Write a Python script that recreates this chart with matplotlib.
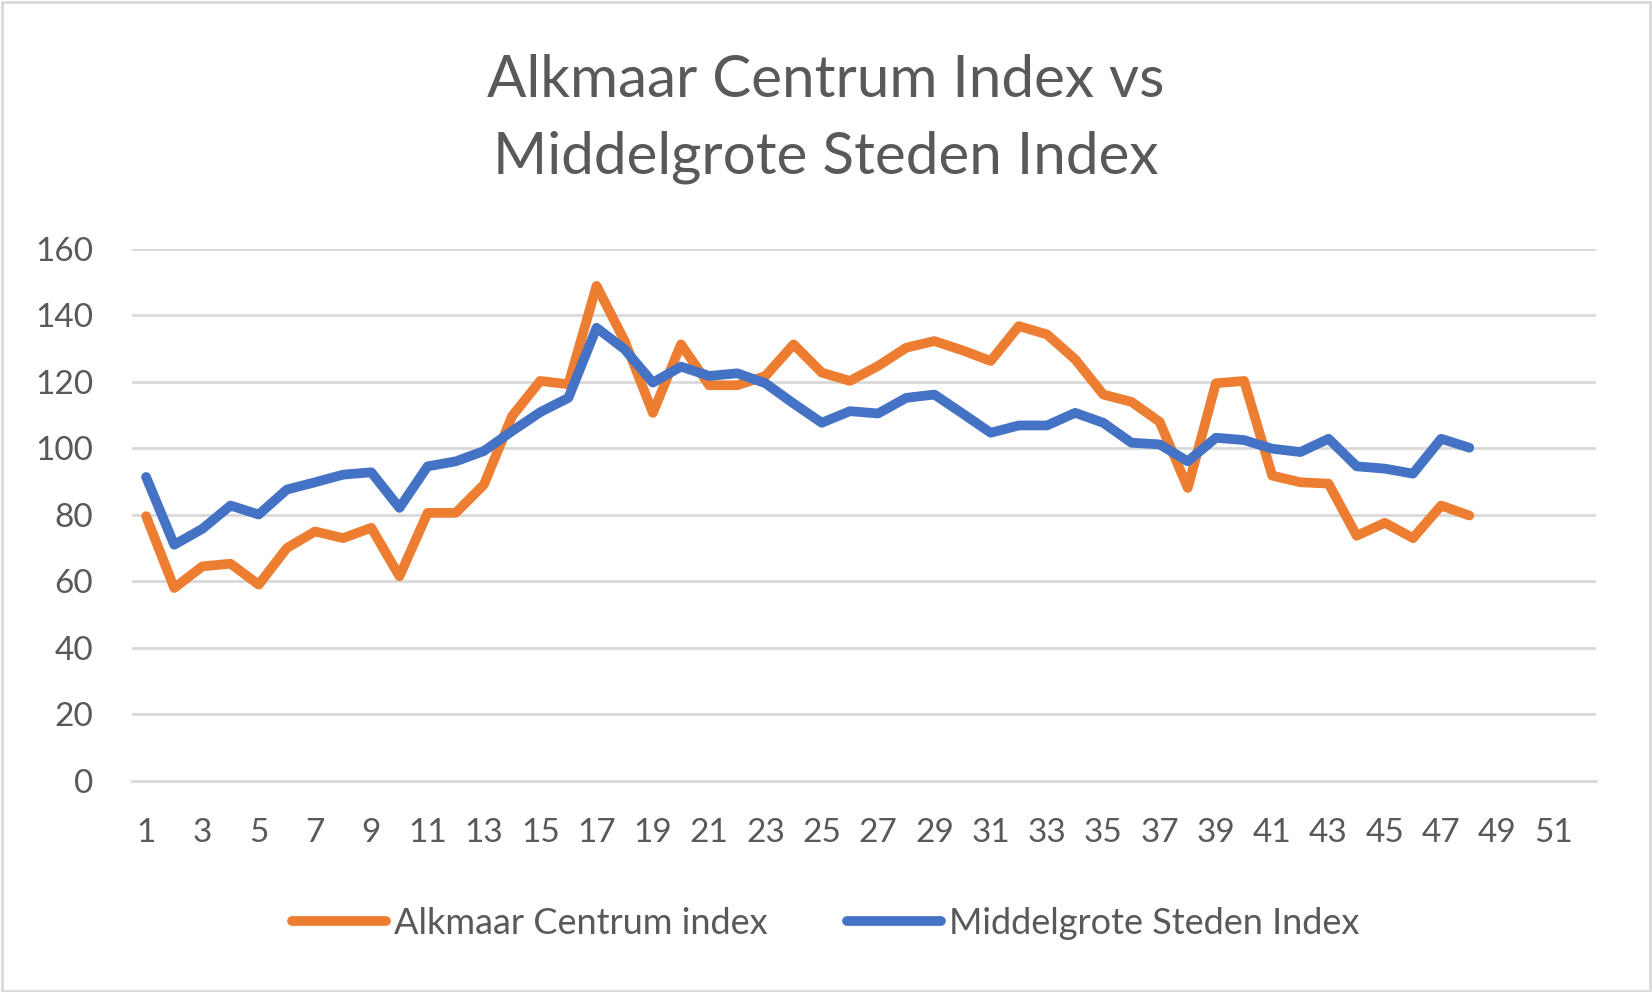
import matplotlib.pyplot as plt
from matplotlib.patches import Rectangle
import numpy as np

# weeks 1..52 on the axis, data through week 48
weeks = list(range(1, 53))
alkmaar = [79.6, 58.0, 64.5, 65.3, 59.0, 70.0, 75.0, 73.0, 76.1, 61.5,
           80.6, 80.6, 89.1, 109.7, 120.3, 119.3, 148.9, 132.3, 110.7, 131.3,
           119.0, 119.0, 121.8, 131.3, 122.8, 120.3, 124.8, 130.3, 132.3, 129.5,
           126.3, 136.8, 134.3, 126.8, 116.2, 114.0, 108.0, 88.1, 119.6, 120.3,
           91.8, 89.8, 89.4, 73.7, 77.6, 73.0, 82.8, 79.8]
middelgroot = [91.4, 71.0, 75.8, 82.8, 80.1, 87.6, 89.8, 92.1, 92.8, 82.1,
               94.6, 96.1, 99.2, 105.2, 110.9, 115.2, 136.3, 129.8, 119.8, 124.6,
               121.8, 122.6, 119.6, 113.5, 107.7, 111.2, 110.5, 115.2, 116.2, 110.5,
               104.7, 106.9, 106.9, 110.7, 107.7, 101.7, 101.2, 96.1, 103.2, 102.5,
               99.9, 98.9, 102.9, 94.6, 93.9, 92.4, 102.9, 100.2]
labels = ['Alkmaar Centrum index', 'Middelgrote Steden Index']

txt = '#595959'
grid = '#d9d9d9'
plt.rcParams['font.family'] = ['Lato', 'DejaVu Sans']

fig = plt.figure(figsize=(16.52, 9.92), dpi=100)
ax = fig.add_axes([0.0799, 0.213, 0.8862, 0.536])

x = np.arange(1, len(alkmaar) + 1)
ax.plot(x, alkmaar, color='#ED7D31', lw=7, solid_capstyle='round',
        solid_joinstyle='round', label=labels[0], zorder=3)
ax.plot(x, middelgroot, color='#4472C4', lw=7, solid_capstyle='round',
        solid_joinstyle='round', label=labels[1], zorder=3)

ax.set_xlim(0.5, len(weeks) + 0.5)
ax.set_ylim(0, 160)
ax.set_yticks(range(0, 161, 20))
ax.set_xticks(weeks[::2])
ax.tick_params(axis='both', length=0, labelsize=24, colors=txt)
ax.tick_params(axis='y', pad=28)
ax.tick_params(axis='x', pad=27)
ax.grid(axis='y', color=grid, lw=2, zorder=0)
for s in ['top', 'right', 'left']:
    ax.spines[s].set_visible(False)
ax.spines['bottom'].set_color(grid)
ax.spines['bottom'].set_linewidth(2)

fig.text(0.5, 0.88, 'Alkmaar Centrum Index vs\nMiddelgrote Steden Index',
         ha='center', va='center', fontsize=42, color=txt, linespacing=1.55)

leg = fig.legend(loc='center', bbox_to_anchor=(0.5, 0.069), ncol=2, frameon=False,
                 fontsize=26, handlelength=2.6, handletextpad=0.22, columnspacing=2.2,
                 labelcolor=txt)

fig.patches.append(Rectangle((0.001, 0.001), 0.998, 0.997, transform=fig.transFigure,
                             fill=False, edgecolor=grid, lw=2))

fig.savefig('out.png', dpi=100)
